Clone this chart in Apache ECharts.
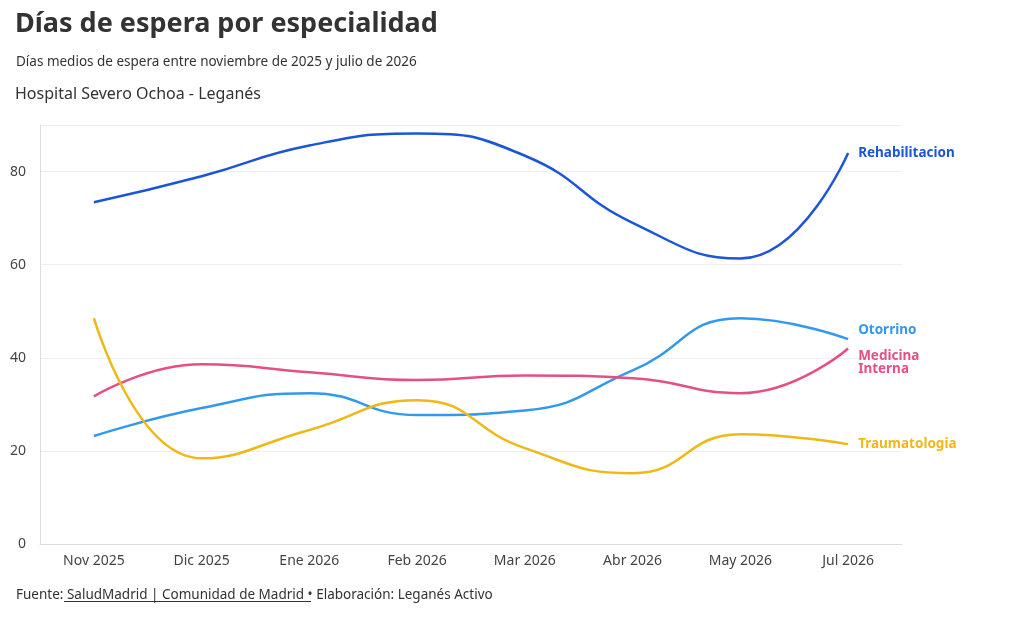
<!DOCTYPE html>
<html>
<head>
<meta charset="utf-8">
<script src="https://cdn.jsdelivr.net/npm/echarts@6/dist/echarts.min.js"></script>
<style>body{margin:0}#main{width:1015px;height:625px}</style>
</head>
<body>
<div id="main"></div>
<script>
var categories = ['Nov 2025', 'Dic 2025', 'Ene 2026', 'Feb 2026', 'Mar 2026', 'Abr 2026', 'May 2026', 'Jul 2026'];
var rehabilitacion = [73.4, 79.0, 85.6, 88.2, 83.4, 69.0, 61.3, 84.0];
var otorrino = [23.2, 29.2, 32.4, 27.7, 28.7, 37.3, 48.5, 44.0];
var medicina = [31.7, 38.6, 36.9, 35.2, 36.2, 35.6, 32.4, 42.0];
var traumatologia = [48.5, 18.4, 24.5, 30.9, 20.6, 15.2, 23.6, 21.4];

var font = '"Noto Sans", "Open Sans", sans-serif';
var myChart = echarts.init(document.getElementById('main'));

function line(name, data, color, label, offY) {
    return {
        name: name, type: 'line', data: data, smooth: 0.5, symbol: 'none',
        lineStyle: { color: color, width: 2.5 },
        endLabel: {
            show: true, formatter: label, color: color, fontWeight: 'bold',
            fontSize: 13.5, fontFamily: font, lineHeight: 13, offset: [2, offY]
        }
    };
}

myChart.setOption({
    animation: false,
    textStyle: { fontFamily: font },
    title: [
        { text: 'Días de espera por especialidad', left: 10, top: 6,
          textStyle: { fontSize: 27, fontWeight: 'bold', color: '#333', fontFamily: font } },
        { text: 'Días medios de espera entre noviembre de 2025 y julio de 2026', left: 11, top: 50,
          textStyle: { fontSize: 13.5, fontWeight: 'normal', color: '#333', fontFamily: font } },
        { text: 'Hospital Severo Ochoa - Leganés', left: 10, top: 81,
          textStyle: { fontSize: 16, fontWeight: 'normal', color: '#333', fontFamily: font } },
        { text: 'Fuente: SaludMadrid | Comunidad de Madrid • Elaboración: Leganés Activo', left: 11, top: 583,
          textStyle: { fontSize: 13.5, fontWeight: 'normal', color: '#333', fontFamily: font } }
    ],
    graphic: [
        { type: 'line', shape: { x1: 64, y1: 601.5, x2: 311, y2: 601.5 }, style: { stroke: '#333', lineWidth: 1 } }
    ],
    grid: { left: 40, right: 113, top: 125, bottom: 81 },
    xAxis: {
        type: 'category', data: categories, boundaryGap: [0.063, 0.063],
        axisLine: { lineStyle: { color: '#ddd' } }, axisTick: { show: false },
        axisLabel: { color: '#444', fontSize: 14, margin: 10 }
    },
    yAxis: {
        type: 'value', min: 0, max: 90, interval: 20,
        axisLine: { show: true, lineStyle: { color: '#ddd' } },
        axisLabel: { color: '#444', fontSize: 14, showMaxLabel: false, margin: 14 },
        splitLine: { lineStyle: { color: '#eee' } }
    },
    series: [
        line('Rehabilitacion', rehabilitacion, '#1a56d6', 'Rehabilitacion', 0),
        line('Otorrino', otorrino, '#3399ee', 'Otorrino', -9),
        line('Medicina Interna', medicina, '#e54f86', 'Medicina\nInterna', 14),
        line('Traumatologia', traumatologia, '#f0b817', 'Traumatologia', 0)
    ]
});
</script>
</body>
</html>
